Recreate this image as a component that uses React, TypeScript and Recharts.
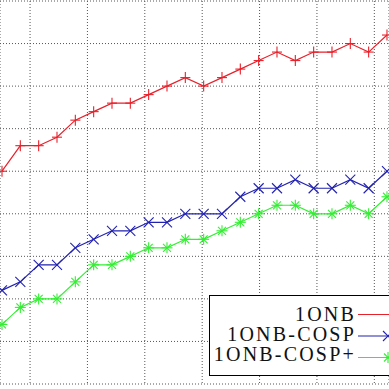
import { LineChart, Line, XAxis, YAxis, CartesianGrid, Legend } from 'recharts';

// point index along the x axis (the crop hides the real axis labels)
const steps = [0, 1, 2, 3, 4, 5, 6, 7, 8, 9, 10, 11, 12, 13, 14, 15, 16, 17, 18, 19, 20, 21];
const onb = [75, 78, 78, 79, 81, 82, 83, 83, 84, 85, 86, 85, 86, 87, 88, 89, 88, 89, 89, 90, 89, 91];
const onbCosp = [61, 62, 64, 64, 66, 67, 68, 68, 69, 69, 70, 70, 70, 72, 73, 73, 74, 73, 73, 74, 73, 75];
const onbCospPlus = [57, 59, 60, 60, 62, 64, 64, 65, 66, 66, 67, 67, 68, 69, 70, 71, 71, 70, 70, 71, 70, 72];
const xTicks = [1.53, 4.66, 7.79, 10.92, 14.05, 17.18, 20.31];
const yTicks = [55, 60, 65, 70, 75, 80, 85, 90];

const RED = '#e8202a';
const BLUE = '#2222b0';
const GREEN = '#33ee33';

const chartData = steps.map((s, i) => ({
  step: s,
  onb: onb[i],
  cosp: onbCosp[i],
  cospPlus: onbCospPlus[i],
}));

const plus = (cx: number, cy: number, color: string) => (
  <g stroke={color} strokeWidth={1.1}>
    <line x1={cx - 5} y1={cy} x2={cx + 5} y2={cy} />
    <line x1={cx} y1={cy - 5.5} x2={cx} y2={cy + 5.5} />
  </g>
);

const cross = (cx: number, cy: number, color: string) => (
  <g stroke={color} strokeWidth={1.1}>
    <line x1={cx - 5} y1={cy - 5} x2={cx + 5} y2={cy + 5} />
    <line x1={cx - 5} y1={cy + 5} x2={cx + 5} y2={cy - 5} />
  </g>
);

const star = (cx: number, cy: number, color: string) => (
  <g stroke={color} strokeWidth={1.1}>
    <line x1={cx - 5.5} y1={cy} x2={cx + 5.5} y2={cy} />
    <line x1={cx} y1={cy - 5.5} x2={cx} y2={cy + 5.5} />
    <line x1={cx - 4} y1={cy - 4} x2={cx + 4} y2={cy + 4} />
    <line x1={cx - 4} y1={cy + 4} x2={cx + 4} y2={cy - 4} />
  </g>
);

const makeDot = (shape: typeof plus, color: string) => (props: any) => (
  <g key={`d-${props.index}`}>{shape(props.cx, props.cy, color)}</g>
);

const BottomTick = (props: any) => (
  <line x1={props.x} y1={props.y} x2={props.x} y2={props.y - 7} stroke="#000" strokeWidth={1.5} />
);

const TopTick = (props: any) => (
  <line x1={props.x} y1={props.y - 1} x2={props.x} y2={props.y + 6} stroke="#000" strokeWidth={1.5} />
);

const legendRows = [
  { label: '1ONB', color: RED, shape: plus },
  { label: '1ONB-COSP', color: BLUE, shape: cross },
  { label: '1ONB-COSP+', color: GREEN, shape: star },
];

const LegendBox = () => (
  <div style={{ width: 200, height: 81, border: '1.5px solid #000', background: '#fff', boxSizing: 'border-box' }}>
    <svg width={200} height={78} style={{ display: 'block' }}>
      {legendRows.map((r, i) => {
        const ly = 18.5 + i * 21.5;
        return (
          <g key={r.label}>
            <text
              x={146}
              y={25 + i * 20}
              textAnchor="end"
              fontFamily="'Liberation Serif', serif"
              fontSize={20}
              letterSpacing={2.2}
              fill="#111"
            >
              {r.label}
            </text>
            <line x1={148} y1={ly} x2={200} y2={ly} stroke={r.color} strokeWidth={1.2} />
            {r.shape(i === 0 ? 183 : 178, ly, r.color)}
          </g>
        );
      })}
    </svg>
  </div>
);

export default function App() {
  return (
    <div style={{ position: 'absolute', left: 0, top: 0, width: 389, height: 389, overflow: 'hidden', background: '#fff' }}>
      <LineChart width={389} height={389} data={chartData} margin={{ top: 1, right: 0, bottom: 5, left: 0 }}>
        <CartesianGrid stroke="#555" strokeDasharray="1 2" strokeWidth={1} />
        <XAxis
          dataKey="step"
          type="number"
          domain={[-0.109, 21.11]}
          allowDataOverflow
          ticks={xTicks}
          interval={0}
          height={0}
          tickSize={0}
          tickMargin={0}
          tickLine={false}
          tick={BottomTick}
          axisLine={{ stroke: '#000', strokeWidth: 2 }}
        />
        <XAxis
          xAxisId="top"
          orientation="top"
          dataKey="step"
          type="number"
          domain={[-0.109, 21.11]}
          allowDataOverflow
          ticks={xTicks}
          interval={0}
          height={0}
          tickSize={0}
          tickMargin={0}
          tickLine={false}
          tick={TopTick}
          axisLine={{ stroke: '#888', strokeWidth: 2.5 }}
        />
        <YAxis hide type="number" domain={[50, 95]} ticks={yTicks} allowDataOverflow />
        <Line
          dataKey="onb"
          stroke={RED}
          strokeWidth={1.2}
          dot={makeDot(plus, RED)}
          isAnimationActive={false}
        />
        <Line
          dataKey="cosp"
          stroke={BLUE}
          strokeWidth={1.2}
          dot={makeDot(cross, BLUE)}
          isAnimationActive={false}
        />
        <Line
          dataKey="cospPlus"
          stroke={GREEN}
          strokeWidth={1.2}
          dot={makeDot(star, GREEN)}
          isAnimationActive={false}
        />
        <Legend
          layout="horizontal"
          verticalAlign="middle"
          content={LegendBox}
          wrapperStyle={{ left: 209, top: 295, width: 200, height: 81 }}
        />
      </LineChart>
    </div>
  );
}
